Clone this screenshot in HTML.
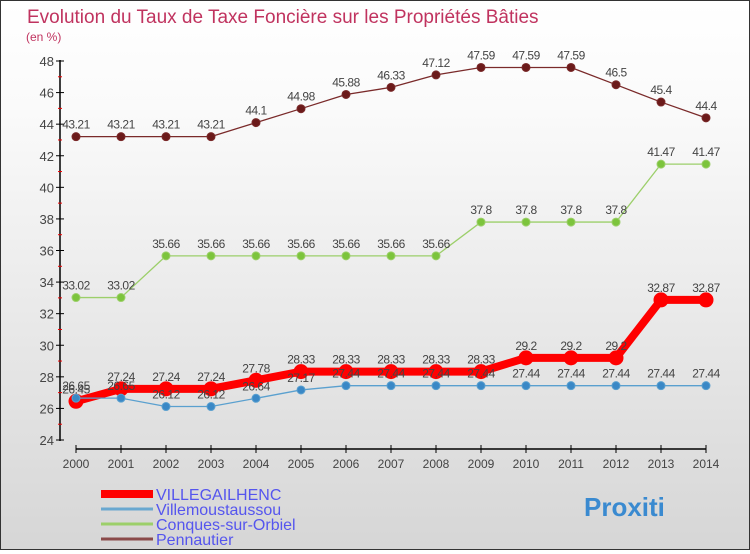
<!DOCTYPE html>
<html><head><meta charset="utf-8"><style>
body{margin:0}
#c{width:748px;height:548px;border:1px solid #333;background:linear-gradient(#fff,#fafafa 20%,#d6d6d6);position:relative;font-family:"Liberation Sans",sans-serif}
</style></head><body>
<div id="c">
<svg id="s" width="748" height="548" xmlns="http://www.w3.org/2000/svg">
<text x="26" y="22" font-size="19" fill="#c0335f">Evolution du Taux de Taxe Foncière sur les Propriétés Bâties</text>
<text x="25" y="40" font-size="12" fill="#c0335f">(en %)</text>
<g id="g"></g>
</svg>
</div>
<script>
const years=[2000,2001,2002,2003,2004,2005,2006,2007,2008,2009,2010,2011,2012,2013,2014];
const villegailhenc=[26.45,27.24,27.24,27.24,27.78,28.33,28.33,28.33,28.33,28.33,29.2,29.2,29.2,32.87,32.87];
const villemoustaussou=[26.65,26.65,26.12,26.12,26.64,27.17,27.44,27.44,27.44,27.44,27.44,27.44,27.44,27.44,27.44];
const conques=[33.02,33.02,35.66,35.66,35.66,35.66,35.66,35.66,35.66,37.8,37.8,37.8,37.8,41.47,41.47];
const pennautier=[43.21,43.21,43.21,43.21,44.1,44.98,45.88,46.33,47.12,47.59,47.59,47.59,46.5,45.4,44.4];
const yTicks=[24,26,28,30,32,34,36,38,40,42,44,46,48];
const NS="http://www.w3.org/2000/svg";
const g=document.getElementById('g');
const xS=i=>75+i*45;
const yS=v=>439-(v-24)*(379/24);
function mk(t,a,p){const e=document.createElementNS(NS,t);for(const k in a)e.setAttribute(k,a[k]);(p||g).appendChild(e);return e;}
let ax=mk('line',{x1:59,y1:59,x2:59,y2:440,stroke:'#000','stroke-width':1.5});


let bx=mk('line',{x1:75,y1:448,x2:705,y2:448,stroke:'#000','stroke-width':1.5});


yTicks.forEach(v=>{
 mk('line',{x1:55,y1:yS(v),x2:63,y2:yS(v),stroke:'#000'});
 if(v<48) mk('line',{x1:57,y1:yS(v+1),x2:61,y2:yS(v+1),stroke:'#e00'});
 const t=mk('text',{x:53,y:yS(v)+5,'text-anchor':'end','font-size':13,fill:'#444'});
 t.textContent=v;
 
 
});
years.forEach((y,i)=>{
 mk('line',{x1:xS(i),y1:444,x2:xS(i),y2:452,stroke:'#000'});
 const t=mk('text',{x:xS(i),y:467,'text-anchor':'middle','font-size':12,fill:'#444'});
 t.textContent=y;
 
 
});
function series(vals,color,w,r,name,fill){
 const pts=vals.map((v,i)=>xS(i)+','+yS(v)).join(' ');
 const pl=mk('polyline',{points:pts,fill:'none',stroke:color,'stroke-width':w,'stroke-linejoin':'round'});
 
 
 vals.forEach((v,i)=>{
  const c=mk('circle',{cx:xS(i),cy:yS(v),r:r,fill:fill,stroke:color,'stroke-width':1});
  
  
 });
 vals.forEach((v,i)=>{
  const t=mk('text',{x:xS(i),y:yS(v)-8,'text-anchor':'middle','font-size':12,fill:'#444','letter-spacing':-0.5});
  t.textContent=v;
  
  
 });
}
series(pennautier,'#7a2a2a',1.3,4,'pennautier','#6b1a1a');
series(conques,'#9ccf6a',1.3,4,'conques','#7cc43c');
series(villegailhenc,'#f00',8,7,'villegailhenc','#f00');
series(villemoustaussou,'#5aa0cf',1.3,4,'villemoustaussou','#3a88c6');
const leg=[['VILLEGAILHENC','#f00',8],['Villemoustaussou','#6aa8d0',3],['Conques-sur-Orbiel','#9ccf6a',3],['Pennautier','#8a4a4a',3]];
leg.forEach((l,i)=>{
 const y=493+i*15;
 const ln=mk('line',{x1:100,y1:y,x2:152,y2:y,stroke:l[1],'stroke-width':l[2]});
 
 
 const t=mk('text',{x:155,y:y+6,'font-size':16,fill:'#5555ee'});
 t.textContent=l[0];
 
 
});
const lg=mk('text',{x:583,y:515,'font-size':26,'font-weight':'bold',fill:'#3a8ad0'});
lg.textContent='Proxiti';


</script>
</body></html>
